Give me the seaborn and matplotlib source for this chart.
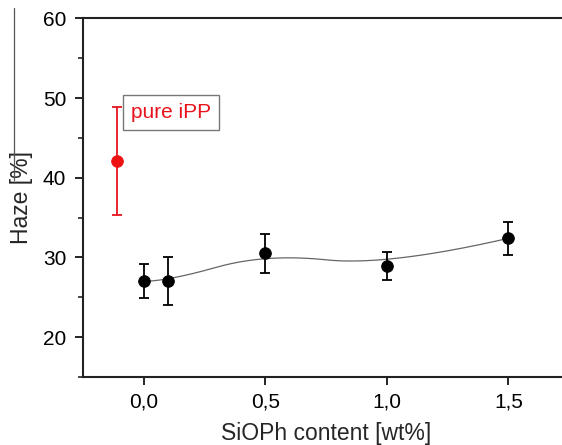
import seaborn as sns
import matplotlib.pyplot as plt
import matplotlib.lines as mlines
from matplotlib.ticker import MultipleLocator, FuncFormatter
import numpy as np
import pandas as pd

# measured haze values
content = [0.0, 0.1, 0.5, 1.0, 1.5]
haze = [27.0, 27.05, 30.5, 28.9, 32.4]
haze_err = [2.15, 3.0, 2.4, 1.75, 2.1]

# reference: pure iPP
ipp_x = [-0.11]
ipp_haze = [42.05]
ipp_err_low = [6.7]
ipp_err_high = [6.85]


def bspline(ctrl_x, ctrl_y, n=200, k=2):
    # clamped B-spline with the data points as control points (Origin style)
    m = len(ctrl_x)
    inner = np.linspace(0, 1, m - k + 1)[1:-1]
    knots = np.concatenate([np.zeros(k + 1), inner, np.ones(k + 1)])
    t = np.linspace(0, 1, n)
    t[-1] = 1 - 1e-10

    def basis(i, d, tt):
        if d == 0:
            return ((knots[i] <= tt) & (tt < knots[i + 1])).astype(float)
        out = np.zeros_like(tt)
        den1 = knots[i + d] - knots[i]
        den2 = knots[i + d + 1] - knots[i + 1]
        if den1 > 0:
            out += (tt - knots[i]) / den1 * basis(i, d - 1, tt)
        if den2 > 0:
            out += (knots[i + d + 1] - tt) / den2 * basis(i + 1, d - 1, tt)
        return out

    B = np.array([basis(i, k, t) for i in range(m)])
    return B.T @ np.asarray(ctrl_x), B.T @ np.asarray(ctrl_y)


sns.set_theme(style="ticks")
plt.rcParams['font.family'] = ['Liberation Sans', 'DejaVu Sans']

fig = plt.figure(figsize=(5.62, 4.45), dpi=100)
ax = fig.add_axes([0.1477, 0.1528, 0.865, 0.806])

sx, sy = bspline(content, haze)
curve = pd.DataFrame({"x": sx, "y": sy})
sns.lineplot(data=curve, x="x", y="y", ax=ax, color="#666666", lw=0.9, sort=False)

ax.errorbar(content, haze, yerr=haze_err, fmt="none", ecolor="black",
            elinewidth=1.3, capsize=3.5, capthick=1.3, zorder=3)
sns.scatterplot(x=content, y=haze, ax=ax, color="black", s=70,
                edgecolor="black", zorder=4)

ax.errorbar(ipp_x, ipp_haze, yerr=[ipp_err_low, ipp_err_high], fmt="none",
            ecolor="#e8141c", elinewidth=1.3, capsize=3.5, capthick=1.3, zorder=3)
sns.scatterplot(x=ipp_x, y=ipp_haze, ax=ax, color="#ee1111", s=70,
                edgecolor="#ee1111", zorder=4)

ax.text(-0.052, 48.2, "pure iPP", color="#e8141c", fontsize=15,
        ha="left", va="center",
        bbox=dict(boxstyle="square,pad=0.38", fc="white", ec="#777777", lw=1))

ax.set_xlim(-0.25, 1.75)
ax.set_ylim(15, 60)
ax.xaxis.set_major_locator(MultipleLocator(0.5))
ax.yaxis.set_major_locator(MultipleLocator(10))
ax.yaxis.set_minor_locator(MultipleLocator(5))
ax.xaxis.set_major_formatter(FuncFormatter(lambda v, p: f"{v:.1f}".replace(".", ",")))
ax.set_yticks([20, 30, 40, 50, 60])

ax.tick_params(axis="both", which="major", direction="out", length=6, width=1.2,
               labelsize=15, pad=6, colors="black")
ax.tick_params(axis="x", which="major", pad=5)
ax.tick_params(axis="y", which="minor", direction="out", length=3.5, width=1.2)
ax.tick_params(axis="x", which="minor", length=0)
ax.tick_params(top=False, right=False)

for side in ["left", "bottom", "top"]:
    ax.spines[side].set_color("#222222")
    ax.spines[side].set_linewidth(1.5)
ax.spines["right"].set_visible(False)

ax.set_xlabel("SiOPh content [wt%]", fontsize=16.5, labelpad=7.5)
ax.set_ylabel("Haze [%]", fontsize=16.5, labelpad=7)

# thin stray frame line on the left border of the original figure
fig.add_artist(mlines.Line2D([14 / 562, 14 / 562], [1 - 8 / 445, 1 - 180 / 445],
                             color="#555555", lw=0.9))

fig.savefig("out.png", dpi=100)
